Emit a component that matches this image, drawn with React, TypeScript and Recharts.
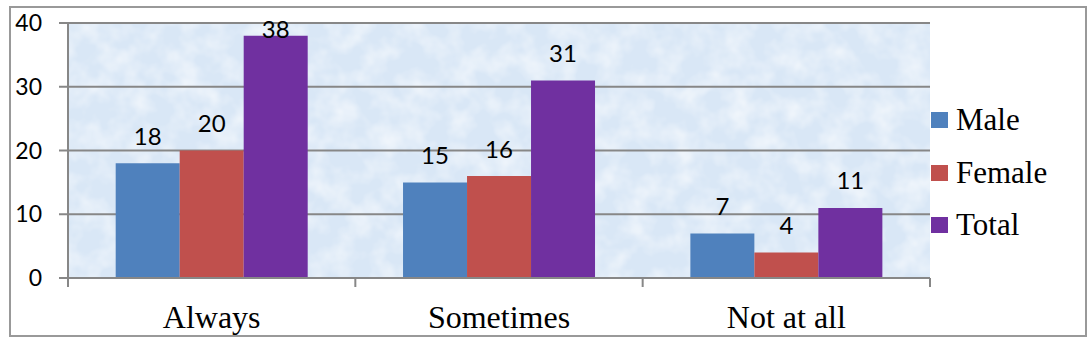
import React from "react";
import { BarChart, Bar, XAxis, YAxis, CartesianGrid, LabelList } from "recharts";

const categories = ["Always", "Sometimes", "Not at all"];
const maleValues = [18, 15, 7];
const femaleValues = [20, 16, 4];
const totalValues = [38, 31, 11];
const yTicks = [0, 10, 20, 30, 40];
const seriesNames = ["Male", "Female", "Total"];
const seriesColors = ["#4f81bd", "#c0504d", "#7030a0"];
// positions on the category band axis: integers = separators, halves = category centres
const bandTicks = [0, 0.5, 1, 1.5, 2, 2.5, 3];

const data = categories.map((c, i) => ({
  name: c,
  slot: i + 0.5,
  Male: maleValues[i],
  Female: femaleValues[i],
  Total: totalValues[i],
}));

const SANS = "Lato, 'Open Sans', sans-serif";
const SERIF = "'Liberation Serif', 'Times New Roman', serif";
const GRID = "#878787";

const renderLabel = (props: any) => {
  const { x, y, width, value } = props;
  const cy = Math.max(Number(y) - 28, 28);
  return (
    <text
      x={Number(x) + Number(width) / 2}
      y={cy}
      textAnchor="middle"
      dominantBaseline="central"
      fontFamily={SANS}
      fontSize={24}
      fill="#000"
    >
      {value}
    </text>
  );
};

const BandTick = (props: any) => {
  const { x, y, payload } = props;
  const v = Number(payload.value);
  if (Number.isInteger(v)) {
    return <line x1={x} x2={x} y1={y} y2={y + 9} stroke={GRID} strokeWidth={2} />;
  }
  const name = categories[Math.floor(v)];
  return (
    <text x={x} y={y + 27} dy="0.71em" textAnchor="middle" fontFamily={SERIF} fontSize={32} fill="#000">
      {name}
    </text>
  );
};

export default function App() {
  return (
    <div style={{ position: "absolute", left: 0, top: 0, width: 1092, height: 344, background: "#fff" }}>
      <div
        style={{
          position: "absolute",
          left: 9,
          top: 6,
          width: 1078,
          height: 331,
          border: "2px solid #999",
          boxSizing: "border-box",
        }}
      />
      <div style={{ position: "absolute", left: 0, top: 0 }}>
        <BarChart
          width={1092}
          height={344}
          data={data}
          margin={{ top: 23, right: 162, bottom: 0, left: 0 }}
          barCategoryGap="16.6%"
          barGap={0}
        >
          <defs>
            <filter id="noise" x="0" y="0" width="100%" height="100%">
              <feTurbulence type="fractalNoise" baseFrequency="0.04" numOctaves={3} seed={7} />
              <feColorMatrix type="matrix" values="0 0 0 0 1  0 0 0 0 1  0 0 0 0 1  1.2 0 0 0 -0.45" />
            </filter>
            <pattern id="tex" patternUnits="userSpaceOnUse" width="1092" height="344">
              <rect width="1092" height="344" fill="#d9e7f6" />
              <rect width="1092" height="344" filter="url(#noise)" />
            </pattern>
          </defs>
          <CartesianGrid
            vertical={false}
            stroke={GRID}
            strokeWidth={2}
            fill="url(#tex)"
            fillOpacity={1}
            yAxisId="y"
            xAxisId="cat"
          />
          <XAxis xAxisId="cat" dataKey="name" hide />
          <XAxis
            xAxisId="band"
            dataKey="slot"
            type="number"
            domain={[0, 3]}
            ticks={bandTicks}
            allowDataOverflow
            interval={0}
            tick={BandTick}
            tickSize={0}
            tickMargin={0}
            tickLine={false}
            height={66}
            axisLine={{ stroke: GRID, strokeWidth: 2 }}
          />
          <YAxis
            yAxisId="y"
            width={68}
            domain={[0, 40]}
            ticks={yTicks}
            tickSize={9}
            tickMargin={17}
            axisLine={{ stroke: GRID, strokeWidth: 2 }}
            tickLine={{ stroke: GRID, strokeWidth: 2 }}
            tick={{ fontFamily: SANS, fontSize: 23, fill: "#000" }}
          />
          {seriesNames.map((s, i) => (
            <Bar
              key={s}
              dataKey={s}
              xAxisId="cat"
              yAxisId="y"
              fill={seriesColors[i]}
              isAnimationActive={false}
            >
              <LabelList dataKey={s} content={renderLabel} />
            </Bar>
          ))}
        </BarChart>
      </div>
      {seriesNames.map((s, i) => (
        <div
          key={s}
          style={{
            position: "absolute",
            left: 931,
            top: 120 + i * 52.5 - 20,
            height: 40,
            display: "flex",
            alignItems: "center",
          }}
        >
          <div style={{ width: 17, height: 16, background: seriesColors[i], marginRight: 8 }} />
          <span style={{ fontFamily: SERIF, fontSize: 31, color: "#000", lineHeight: "40px" }}>{s}</span>
        </div>
      ))}
    </div>
  );
}
